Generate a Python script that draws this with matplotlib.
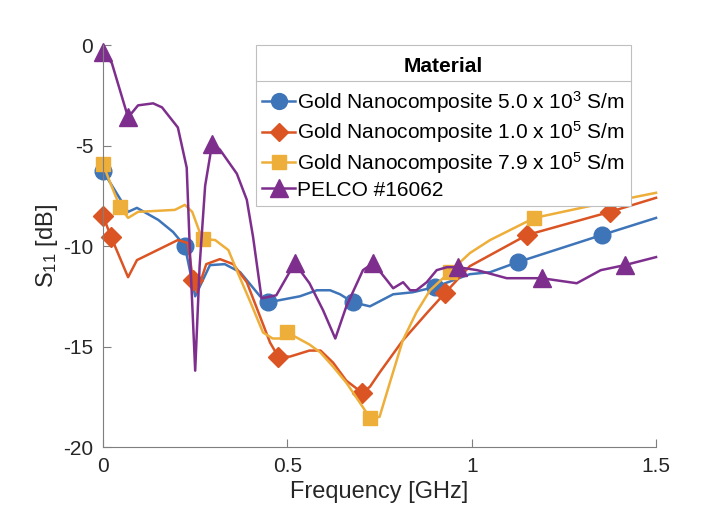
import matplotlib
matplotlib.use('Agg')
import matplotlib.pyplot as plt
from matplotlib.lines import Line2D
from matplotlib.offsetbox import PaddedBox

plt.rcParams['font.family'] = ['Liberation Sans', 'DejaVu Sans']
plt.rcParams['mathtext.fontset'] = 'custom'
plt.rcParams['mathtext.rm'] = 'Liberation Sans'
plt.rcParams['mathtext.it'] = 'Liberation Sans:italic'
plt.rcParams['axes.unicode_minus'] = False

# 数据
f_blue = [0, 0.068, 0.092, 0.15, 0.19, 0.222, 0.25, 0.29, 0.33, 0.372, 0.426, 0.448, 0.534,
          0.58, 0.616, 0.643, 0.678, 0.724, 0.787, 0.84, 0.90, 0.995, 1.05, 1.125, 1.353, 1.5]
s_blue = [-6.27, -8.3, -8.1, -8.7, -9.3, -10.0, -12.5, -10.95, -10.9, -11.3, -12.5, -12.8, -12.5,
          -12.2, -12.2, -12.4, -12.8, -13.0, -12.4, -12.3, -12.04, -11.4, -11.3, -10.8, -9.45, -8.6]
mk_blue = [0, 5, 11, 16, 20, 23, 24]

f_red = [0, 0.022, 0.068, 0.092, 0.203, 0.23, 0.244, 0.255, 0.28, 0.317, 0.353, 0.39, 0.43,
         0.453, 0.475, 0.507, 0.56, 0.59, 0.624, 0.66, 0.703, 0.724, 0.75, 0.813, 0.88, 0.927,
         0.995, 1.05, 1.15, 1.375, 1.5]
s_red = [-8.5, -9.55, -11.55, -10.7, -9.7, -9.85, -11.7, -12.3, -10.9, -10.65, -10.9, -11.8, -13.7,
         -14.8, -15.5, -15.5, -15.2, -15.2, -15.8, -16.7, -17.3, -17.0, -16.3, -14.7, -13.3, -12.35,
         -11.0, -10.45, -9.45, -8.3, -7.6]
mk_red = [0, 1, 6, 14, 20, 25, 28, 29]

f_yel = [0, 0.014, 0.046, 0.068, 0.095, 0.195, 0.222, 0.242, 0.263, 0.27, 0.304, 0.34, 0.366,
         0.4, 0.434, 0.46, 0.48, 0.5, 0.56, 0.59, 0.624, 0.66, 0.697, 0.724, 0.75, 0.778, 0.813,
         0.85, 0.887, 0.94, 0.995, 1.05, 1.17, 1.31, 1.5]
s_yel = [-5.9, -6.6, -8.05, -8.6, -8.3, -8.2, -7.95, -8.3, -9.35, -9.65, -9.7, -10.2, -11.35,
         -12.8, -14.3, -14.6, -14.6, -14.3, -14.9, -15.3, -16.0, -16.8, -17.8, -18.55, -18.5, -16.8,
         -14.7, -13.3, -12.2, -11.3, -10.35, -9.7, -8.6, -8.05, -7.35]
mk_yel = [0, 2, 9, 17, 23, 29, 32]

f_pel = [0, 0.024, 0.068, 0.095, 0.136, 0.16, 0.203, 0.227, 0.236, 0.25, 0.262, 0.277, 0.296,
         0.317, 0.363, 0.39, 0.407, 0.43, 0.47, 0.52, 0.56, 0.597, 0.63, 0.66, 0.705, 0.733, 0.77,
         0.787, 0.814, 0.833, 0.85, 0.878, 0.905, 0.933, 0.963, 1.015, 1.095, 1.19, 1.285, 1.35,
         1.415, 1.5]
s_pel = [-0.35, -0.9, -3.6, -3.0, -2.9, -3.1, -4.1, -6.1, -10.4, -16.2, -11.0, -7.0, -4.9,
         -5.2, -6.4, -7.7, -9.55, -12.6, -12.45, -10.85, -11.85, -13.2, -14.6, -13.0, -11.2, -10.85,
         -11.7, -12.1, -11.8, -12.2, -12.2, -11.8, -11.2, -11.05, -11.05, -11.2, -11.6, -11.6, -11.85,
         -11.2, -10.95, -10.55]
mk_pel = [0, 2, 12, 19, 25, 34, 37, 40]

labels = [r'Gold Nanocomposite 5.0 x 10$^3$ S/m',
          r'Gold Nanocomposite 1.0 x 10$^5$ S/m',
          r'Gold Nanocomposite 7.9 x 10$^5$ S/m',
          'PELCO #16062']

fig = plt.figure(figsize=(7.09, 5.18), dpi=100)
ax = fig.add_axes([0.1453, 0.137, 0.7800, 0.776])

ax.plot(f_blue, s_blue, '-o', color='#3E74B8', lw=1.8, ms=12, markevery=mk_blue,
        clip_on=False, label=labels[0])
ax.plot(f_red, s_red, '-D', color='#DA5424', lw=1.8, ms=10, markevery=mk_red,
        clip_on=False, label=labels[1])
ax.plot(f_yel, s_yel, '-s', color='#EEAE3A', lw=1.8, ms=10, markevery=mk_yel,
        clip_on=False, label=labels[2])
ax.plot(f_pel, s_pel, '-^', color='#7E2F8E', lw=1.8, ms=13, markevery=mk_pel,
        clip_on=False, label=labels[3])

ax.set_xlim(0, 1.5)
ax.set_ylim(-20, 0)
ax.set_xticks([0, 0.5, 1, 1.5])
ax.set_xticklabels(['0', '0.5', '1', '1.5'])
ax.set_yticks([-20, -15, -10, -5, 0])
ax.spines['top'].set_visible(False)
ax.spines['right'].set_visible(False)
for s in ['left', 'bottom']:
    ax.spines[s].set_color('#7f7f7f')
ax.tick_params(direction='in', length=6, width=0.8, colors='#7f7f7f',
               labelcolor='#262626', labelsize=15, pad=7)
ax.set_xlabel('Frequency [GHz]', fontsize=17, color='#262626', labelpad=4)
ax.set_ylabel(r'S$_{11}$ [dB]', fontsize=17, color='#262626', labelpad=2)

leg = ax.legend(loc='upper left', bbox_to_anchor=(0.277, 1.0), borderaxespad=0,
                fontsize=15, title='Material', title_fontproperties={'weight': 'bold', 'size': 15},
                fancybox=False, framealpha=1, edgecolor='#bfbfbf', handlelength=1.55,
                handletextpad=0.1, labelspacing=0.22, borderpad=0.3, markerscale=0.95)
leg.get_frame().set_linewidth(0.8)
# 标题上下留白
leg._legend_box._children[0] = PaddedBox(leg._legend_title_box, pad=4)
leg._legend_box.sep = 5.5

# 标题下方的分隔线
fig.canvas.draw()
fb = leg.get_frame().get_window_extent()
tb = leg.get_title().get_window_extent()
inv = fig.transFigure.inverted()
yline = tb.y0 - 5
(x0, y0), (x1, _) = inv.transform([(fb.x0, yline), (fb.x1, yline)])
fig.add_artist(Line2D([x0, x1], [y0, y0], color='#bfbfbf', lw=0.8))

fig.savefig('out.png', dpi=100)
